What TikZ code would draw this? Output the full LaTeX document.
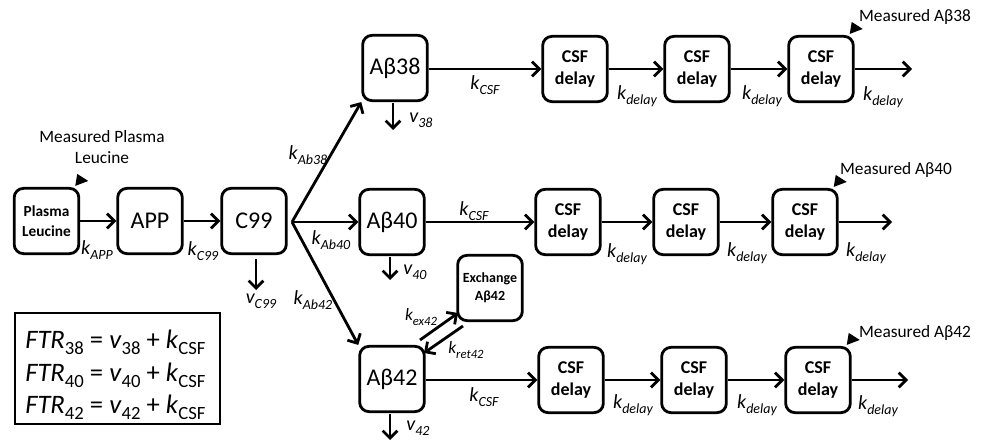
\documentclass[tikz,border=0pt]{standalone}
\usepackage{fontspec}
\setmainfont{Carlito}
\usetikzlibrary{arrows.meta,calc}
\newcommand\kk[2]{#1\raisebox{-0.5ex}{\fontsize{10.5}{12}\selectfont #2}}
\newcommand\lsub[1]{\raisebox{-0.5ex}{\fontsize{14}{15}\selectfont\upshape #1}}
\begin{document}
\begin{tikzpicture}[x=0.75pt,y=-0.75pt,
  box/.style={draw,line width=2.1pt,rounded corners=7pt,minimum width=48.5pt,minimum height=49pt,inner sep=1pt,align=center},
  big/.style={box,font=\fontsize{18}{20}\selectfont},
  csf/.style={box,font=\fontsize{13.5}{16}\selectfont\bfseries},
  arr/.style={line width=2.1pt,-{Straight Barb[length=5.5pt,width=11pt]}},
  klab/.style={font=\fontsize{15}{18}\selectfont\itshape,inner sep=0pt},
  meas/.style={font=\fontsize{13}{16}\selectfont,inner sep=0pt,align=center},
  leg/.style={font=\fontsize{20}{24}\selectfont,inner sep=0pt,anchor=west}
]
\useasboundingbox (0,0) rectangle (982,445);

% main chain
\node[box,font=\fontsize{11.5}{15}\selectfont\bfseries] (PL) at (46.5,221) {Plasma\\Leucine};
\node[big] (APP) at (150,221) {APP};
\node[big] (C99) at (254,221) {C99};

\node[big] (A38) at (395,68) {Aβ38};
\node[big] (A40) at (392,222) {Aβ40};
\node[big] (A42) at (392,379) {Aβ42};
\node[box,font=\fontsize{10.5}{13.5}\selectfont\bfseries] (EX) at (490,288) {Exchange\\Aβ42};

\node[csf] (R1a) at (575,69) {CSF\\delay};
\node[csf] (R1b) at (697,69) {CSF\\delay};
\node[csf] (R1c) at (821,69) {CSF\\delay};
\node[csf] (R2a) at (568,222) {CSF\\delay};
\node[csf] (R2b) at (686,222) {CSF\\delay};
\node[csf] (R2c) at (805,222) {CSF\\delay};
\node[csf] (R3a) at (571,380) {CSF\\delay};
\node[csf] (R3b) at (694,380) {CSF\\delay};
\node[csf] (R3c) at (818,380) {CSF\\delay};

\coordinate (br) at (292,222);
\coordinate (e1) at (912,69);
\coordinate (e2) at (892,222);
\coordinate (e3) at (908,380);
\coordinate (vc) at (256,290);
\coordinate (v38) at (393,130);
\coordinate (v40) at (390,280);
\coordinate (v42) at (390,440);
\coordinate (exa) at (420,340);
\coordinate (exb) at (458,313);
\coordinate (rea) at (463,326);
\coordinate (reb) at (424,353);

% arrows
\draw[arr] (PL.east) -- (APP.west);
\draw[arr] (APP.east) -- (C99.west);
\draw[arr] (br) -- (A38.south west);
\draw[arr] (br) -- (A40.west);
\draw[arr] (br) -- (A42.north west);
\draw[arr,shorten <=3pt] (C99.south -| vc) -- (vc);
\draw[arr,shorten <=1pt] (A38.south -| v38) -- (v38);
\draw[arr,shorten <=1pt] (A40.south -| v40) -- (v40);
\draw[arr,shorten <=1pt] (A42.south -| v42) -- (v42);
\draw[arr] (exa) -- (exb);
\draw[arr] (rea) -- (reb);

\draw[arr] (A38.east |- R1a.west) -- (R1a.west);
\draw[arr] (R1a.east) -- (R1b.west);
\draw[arr] (R1b.east) -- (R1c.west);
\draw[arr] (R1c.east) -- (e1);
\draw[arr] (A40.east) -- (R2a.west);
\draw[arr] (R2a.east) -- (R2b.west);
\draw[arr] (R2b.east) -- (R2c.west);
\draw[arr] (R2c.east) -- (e2);
\draw[arr] (A42.east |- R3a.west) -- (R3a.west);
\draw[arr] (R3a.east) -- (R3b.west);
\draw[arr] (R3b.east) -- (R3c.west);
\draw[arr] (R3c.east) -- (e3);

% flags
\foreach \n in {PL,R1c,R2c,R3c}{
  \fill ($(\n.north east)+(-5,-1)$) -- ($(\n.north east)+(-3,-13)$) -- ($(\n.north east)+(8,-6)$) -- cycle;
}

% labels
\node[klab] (lAPP) at (97,250) {\kk{k}{APP}};
\node[klab] (lC99) at (203,251) {\kk{k}{C99}};
\node[klab] (lvC) at (261,301) {\kk{v}{C99}};
\node[klab] (lA38) at (308,155) {\kk{k}{Ab38}};
\node[klab] (lA40) at (331,240) {\kk{k}{Ab40}};
\node[klab] (lA42) at (313,300) {\kk{k}{Ab42}};
\node[klab] (lv38) at (421,120) {\kk{v}{38}};
\node[klab] (lv40) at (415,272) {\kk{v}{40}};
\node[klab] (lv42) at (418,428) {\kk{v}{42}};
\node[klab] (lex) at (421,317) {\kk{\fontsize{13}{15}\selectfont k}{\fontsize{9.5}{11}\selectfont ex42}};
\node[klab] (lre) at (466,350) {\kk{\fontsize{13}{15}\selectfont k}{\fontsize{9.5}{11}\selectfont ret42}};
\node[klab] (c1) at (485,85) {\kk{k}{CSF}};
\node[klab] (c2) at (474,211) {\kk{k}{CSF}};
\node[klab] (c3) at (484,397) {\kk{k}{CSF}};
\node[klab] (d11) at (637,96) {\kk{k}{delay}};
\node[klab] (d12) at (762,96) {\kk{k}{delay}};
\node[klab] (d13) at (883,97) {\kk{k}{delay}};
\node[klab] (d21) at (627,254) {\kk{k}{delay}};
\node[klab] (d22) at (747,253) {\kk{k}{delay}};
\node[klab] (d23) at (866,253) {\kk{k}{delay}};
\node[klab] (d31) at (633,405) {\kk{k}{delay}};
\node[klab] (d32) at (757,405) {\kk{k}{delay}};
\node[klab] (d33) at (878,406) {\kk{k}{delay}};

\node[meas] (mPL) at (102,147) {Measured Plasma\\Leucine};
\node[meas] (m38) at (915,17) {Measured Aβ38};
\node[meas] (m40) at (896,170) {Measured Aβ40};
\node[meas] (m42) at (915,333) {Measured Aβ42};

% legend
\node[draw,line width=1pt,minimum width=153.75pt,minimum height=83.25pt,inner sep=0pt] (legbox) at (117.5,368.5) {};
\node[leg] (L1) at (25,342) {\textit{FTR}\lsub{38} = \textit{v}\lsub{38} + \textit{k}\lsub{CSF}};
\node[leg] (L2) at (25,375) {\textit{FTR}\lsub{40} = \textit{v}\lsub{40} + \textit{k}\lsub{CSF}};
\node[leg] (L3) at (25,407) {\textit{FTR}\lsub{42} = \textit{v}\lsub{42} + \textit{k}\lsub{CSF}};
\end{tikzpicture}
\end{document}
